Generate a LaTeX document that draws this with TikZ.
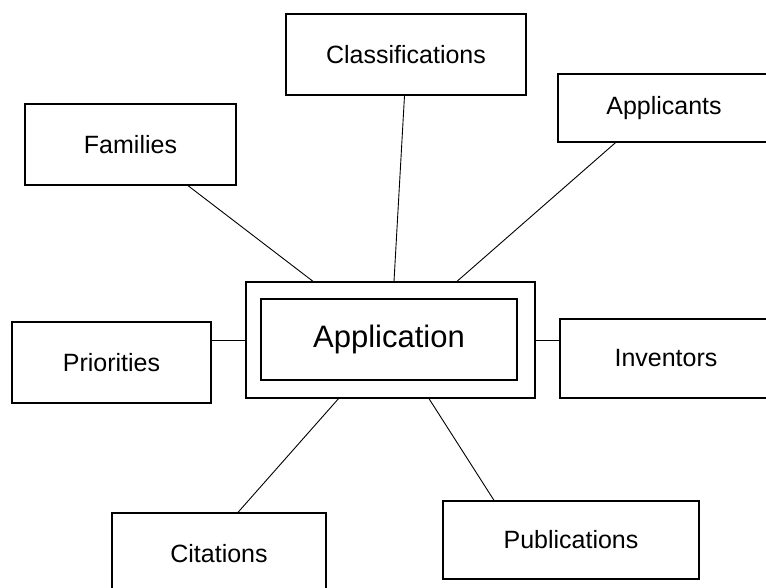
\documentclass[tikz,border=0pt]{standalone}
\usepackage{fontspec}
\setsansfont{Liberation Sans}
\usetikzlibrary{shadows}
\begin{document}
\begin{tikzpicture}[x=1pt,y=-1pt,font=\sffamily\fontsize{25}{30}\selectfont,box/.style={draw,line width=1.3pt,fill=white,inner sep=0pt,drop shadow={shadow xshift=.8pt,shadow yshift=-1.2pt,fill=black!35}},wire/.style={line width=.9pt}]
\useasboundingbox (0,0) rectangle (766,588);
\node[box,minimum width=240pt,minimum height=81pt] (classifications) at (406,54.5) {Classifications};
\node[box,minimum width=212pt,minimum height=68pt] (applicants) at (664,108) {Applicants};
\node[box,minimum width=211pt,minimum height=81pt] (families) at (130.5,144.5) {Families};
\node[box,minimum width=289pt,minimum height=116pt] (frame) at (390.5,340) {};
\node[box,minimum width=256pt,minimum height=81pt,font=\sffamily\fontsize{31}{36}\selectfont] (application) at (389,339.5) {Application};
\node[box,minimum width=199pt,minimum height=81pt] (priorities) at (111.5,362.5) {Priorities};
\node[box,minimum width=212pt,minimum height=79pt] (inventors) at (666,358.5) {Inventors};
\node[box,minimum width=214pt,minimum height=82pt] (citations) at (219,554) {Citations};
\node[box,minimum width=256pt,minimum height=78pt] (publications) at (571,540) {Publications};
\draw[wire] ([xshift=57.5pt]families.south) -- ([xshift=-77.5pt]frame.north);
\draw[wire] ([xshift=-1.5pt]classifications.south) -- ([xshift=3.5pt]frame.north);
\draw[wire] ([xshift=-48.5pt]applicants.south) -- ([xshift=66.5pt]frame.north);
\draw[wire] (priorities.east |- frame.west) -- (frame.west);
\draw[wire] (frame.east) -- (frame.east -| inventors.west);
\draw[wire] ([xshift=19pt]citations.north) -- ([xshift=-52pt]frame.south);
\draw[wire] ([xshift=-77pt]publications.north) -- ([xshift=38.5pt]frame.south);
\end{tikzpicture}
\end{document}
